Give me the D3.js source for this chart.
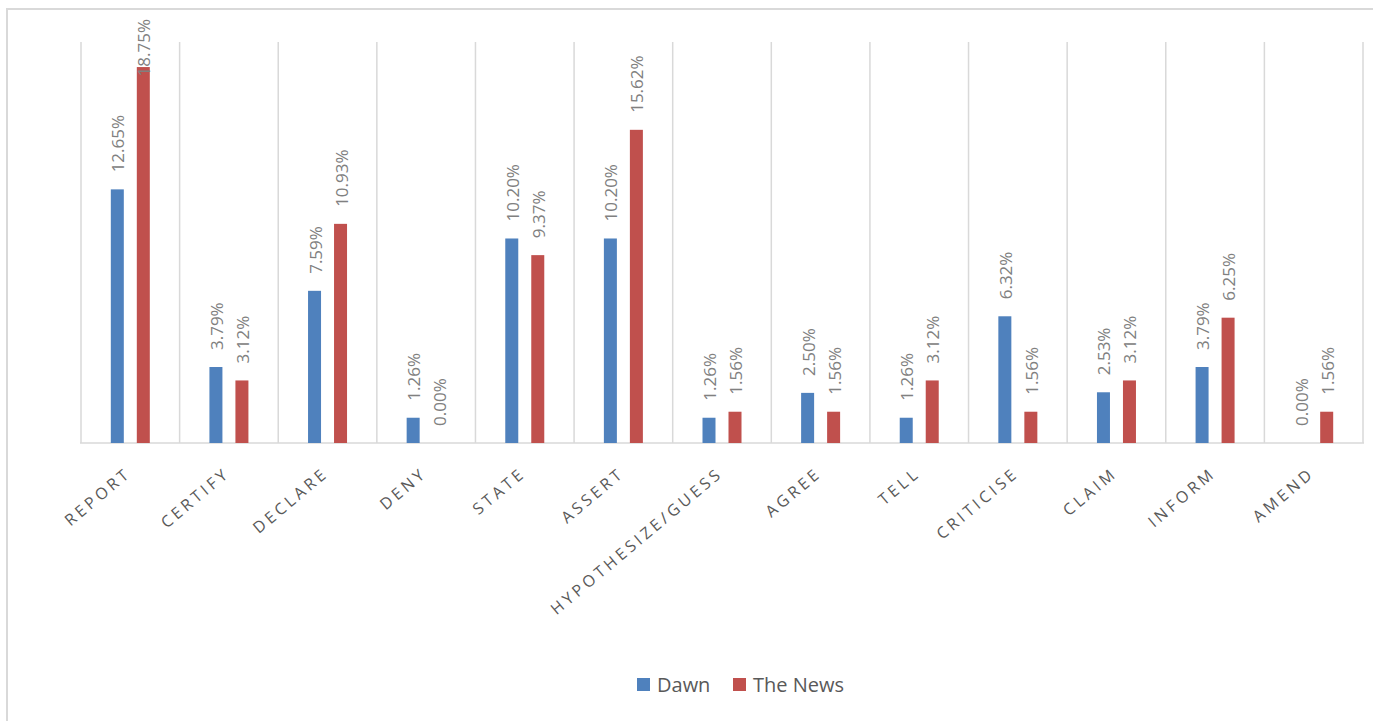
<!DOCTYPE html>
<html>
<head>
<meta charset="utf-8">
<script src="https://cdn.jsdelivr.net/npm/d3@7"></script>
<style>
  html, body { margin: 0; padding: 0; background: #fff; }
  svg { display: block; }
</style>
</head>
<body>
<svg id="chart" width="1373" height="721"></svg>
<script>
const categories = ["REPORT", "CERTIFY", "DECLARE", "DENY", "STATE", "ASSERT", "HYPOTHESIZE/GUESS", "AGREE", "TELL", "CRITICISE", "CLAIM", "INFORM", "AMEND"];
const seriesNames = ["Dawn", "The News"];
const dawnValues = [12.65, 3.79, 7.59, 1.26, 10.20, 10.20, 1.26, 2.50, 1.26, 6.32, 2.53, 3.79, 0.00];
const newsValues = [18.75, 3.12, 10.93, 0.00, 9.37, 15.62, 1.56, 1.56, 3.12, 1.56, 3.12, 6.25, 1.56];
const colors = ["#4F81BD", "#C0504D"];

const svg = d3.select("#chart");
const W = 1373, H = 721;

// outer chart border (only top and left are visible in the frame)
svg.append("rect").attr("x", 7).attr("y", 9).attr("width", W + 20).attr("height", H + 20)
  .attr("fill", "#fff").attr("stroke", "#d9d9d9").attr("stroke-width", 2);

const plot = { left: 81, right: 1363, top: 42, bottom: 443 };

const x = d3.scaleBand().domain(categories).range([plot.left, plot.right]).padding(0);
const bw = 13;
const x1 = d3.scaleBand().domain(seriesNames).range([-bw * 1.5, bw * 1.5]).paddingInner(0.5).paddingOuter(0);
const y = d3.scaleLinear().domain([0, 20]).range([plot.bottom, plot.top]);

// vertical gridlines at category boundaries
const bounds = categories.map(c => x(c)).concat([plot.right]);
svg.append("g").selectAll("line").data(bounds).join("line")
  .attr("x1", d => d).attr("x2", d => d)
  .attr("y1", plot.top).attr("y2", plot.bottom)
  .attr("stroke", "#d9d9d9").attr("stroke-width", 1.5);

// baseline
svg.append("line").attr("x1", plot.left - 1).attr("x2", plot.right + 1)
  .attr("y1", plot.bottom).attr("y2", plot.bottom)
  .attr("stroke", "#d9d9d9").attr("stroke-width", 1.5);

const data = categories.map((c, i) => ({ cat: c, vals: [
  { s: seriesNames[0], v: dawnValues[i], color: colors[0] },
  { s: seriesNames[1], v: newsValues[i], color: colors[1] }
]}));

const groups = svg.append("g").selectAll("g").data(data).join("g")
  .attr("transform", d => `translate(${x(d.cat) + x.bandwidth() / 2},0)`);

groups.selectAll("rect").data(d => d.vals).join("rect")
  .attr("x", d => x1(d.s))
  .attr("width", x1.bandwidth())
  .attr("y", d => y(d.v))
  .attr("height", d => y(0) - y(d.v))
  .attr("fill", d => d.color);

// data labels rotated
groups.selectAll("text").data(d => d.vals).join("text")
  .attr("font-family", "'Open Sans', sans-serif")
  .attr("font-size", 17)
  .attr("fill", "#808080")
  .text(d => d.v.toFixed(2) + "%")
  .attr("transform", function(d) {
    const cx = x1(d.s) + x1.bandwidth() / 2 + 7;
    let yy = y(d.v) - 17;
    const len = this.getComputedTextLength();
    if (yy - len < 19) yy = 19 + len;
    return `translate(${cx},${yy}) rotate(-90)`;
  });

// category labels
svg.append("g").selectAll("text").data(categories).join("text")
  .attr("transform", c => `translate(${x(c) + x.bandwidth() / 2 + 2},${plot.bottom + 32}) rotate(-40)`)
  .attr("text-anchor", "end")
  .attr("font-family", "'Open Sans', sans-serif")
  .attr("font-size", 16)
  .attr("letter-spacing", 3.5)
  .attr("fill", "#595959")
  .text(c => c);

// legend
const legend = svg.append("g");
const legendItems = [{ name: seriesNames[0], color: colors[0], x: 637 }, { name: seriesNames[1], color: colors[1], x: 733 }];
legendItems.forEach(it => {
  legend.append("rect").attr("x", it.x).attr("y", 678).attr("width", 13).attr("height", 13).attr("fill", it.color);
  legend.append("text").attr("x", it.x + 20).attr("y", 691.5)
    .attr("font-family", "'Open Sans', sans-serif").attr("font-size", 20)
    .attr("fill", "#595959").text(it.name);
});
</script>
</body>
</html>
